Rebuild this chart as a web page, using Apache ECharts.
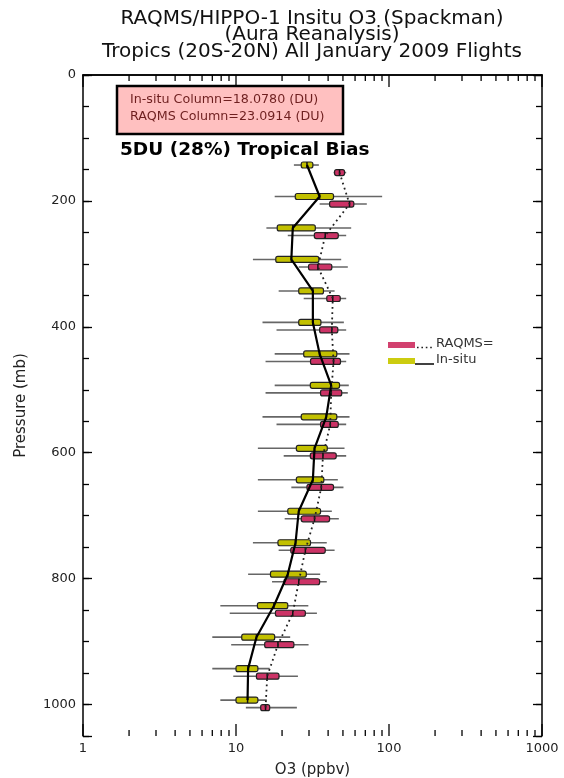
<!DOCTYPE html>
<html><head><meta charset="utf-8">
<script src="https://cdn.jsdelivr.net/npm/echarts@6/dist/echarts.min.js"></script>
<style>html,body{margin:0;padding:0;background:#fff}#c{width:564px;height:778px}</style>
</head><body><div id="c"></div>
<script>
// Pressure levels (mb) at which each profile is drawn
const insituPressure = [143,193,243,293,343,393,443,493,543,593,643,693,743,793,843,893,943,993];
const raqmsPressure  = [155,205,255,305,355,405,455,505,555,605,655,705,755,805,855,905,955,1005];

// In-situ O3 (ppbv) statistics
const insituWhiskerLow  = [23.9,17.9,15.8,12.9,19.0,14.9,17.9,17.9,14.9,13.9,13.9,13.9,12.9,12.0,7.9,7.0,7.0,7.9];
const insituBoxLow      = [26.7,24.4,18.6,18.2,25.7,25.7,27.7,30.6,26.7,24.8,24.8,21.8,18.8,16.8,13.8,10.9,10.0,10.0];
const insituMedian      = [29.1,35.2,23.5,23.0,31.8,31.8,35.2,41.9,38.9,32.6,31.8,25.7,24.5,21.8,17.7,13.6,12.0,11.9];
const insituBoxHigh     = [31.8,43.4,33.0,34.8,37.3,35.9,45.6,47.5,45.6,39.5,37.5,35.7,30.7,28.8,21.8,17.9,13.9,13.9];
const insituWhiskerHigh = [34.8,90.2,56.6,48.7,44.1,50.7,55.2,54.6,55.2,51.2,46.3,42.3,39.2,35.5,29.7,22.6,16.6,15.9];

// RAQMS O3 (ppbv) statistics
const raqmsWhiskerLow  = [43.4,35.2,21.8,25.7,27.7,18.4,15.6,15.6,18.4,20.5,23.0,20.8,19.0,17.2,9.1,9.3,9.6,11.6];
const raqmsBoxLow      = [44.1,40.9,32.5,29.8,39.2,35.2,30.7,35.7,35.7,30.6,29.1,26.7,22.8,20.6,18.1,15.4,13.6,14.5];
const raqmsMedian      = [47.5,55.2,38.3,34.3,42.9,42.3,43.4,41.9,41.3,37.0,36.1,32.6,28.4,25.7,23.5,18.8,16.0,15.6];
const raqmsBoxHigh     = [51.2,58.9,46.6,42.3,48.0,46.3,48.2,49.1,46.6,45.2,43.4,40.9,38.3,35.2,28.4,23.9,19.1,16.6];
const raqmsWhiskerHigh = [52.5,71.6,52.5,53.8,52.5,52.5,52.5,53.8,52.5,52.5,50.4,47.0,44.1,39.2,33.8,29.8,25.4,25.0];

// Axis ticks
const xMajorTicks = [1,10,100,1000];
const xMinorTicks = [2,3,4,5,6,7,8,9,20,30,40,50,60,70,80,90,200,300,400,500,600,700,800,900];

const titleLines = ['RAQMS/HIPPO-1 Insitu O3 (Spackman)', '(Aura Reanalysis)', 'Tropics (20S-20N) All January 2009 Flights'];
const columnLines = ['In-situ Column=18.0780 (DU)', 'RAQMS Column=23.0914 (DU)'];
const biasText = '5DU (28%) Tropical Bias';

function rows(p, wl, bl, md, bh, wh) {
  return p.map((y, i) => [y, wl[i], bl[i], md[i], bh[i], wh[i]]);
}
function boxRender(fill) {
  return function (params, api) {
    const y = api.value(0);
    const a = api.coord([api.value(1), y]);
    const b = api.coord([api.value(2), y]);
    const m = api.coord([api.value(3), y]);
    const c = api.coord([api.value(4), y]);
    const d = api.coord([api.value(5), y]);
    const h = 6;
    return { type: 'group', children: [
      { type: 'line', shape: { x1: a[0], y1: a[1], x2: d[0], y2: d[1] }, style: { stroke: '#666', lineWidth: 1.6 } },
      { type: 'rect', shape: { x: b[0], y: b[1] - h / 2, width: c[0] - b[0], height: h, r: 2 }, style: { fill: fill, stroke: '#222', lineWidth: 1.2 } },
      { type: 'line', shape: { x1: m[0], y1: m[1] - h / 2, x2: m[0], y2: m[1] + h / 2 }, style: { stroke: '#111', lineWidth: 1.5 } }
    ]};
  };
}
function tickRender(len) {
  return function (params, api) {
    const cs = params.coordSys;
    const x = api.coord([api.value(0), 0])[0];
    return { type: 'group', children: [
      { type: 'line', shape: { x1: x, y1: cs.y + cs.height, x2: x, y2: cs.y + cs.height - len }, style: { stroke: '#000', lineWidth: 1.3 } },
      { type: 'line', shape: { x1: x, y1: cs.y, x2: x, y2: cs.y + len }, style: { stroke: '#000', lineWidth: 1.3 } }
    ]};
  };
}

const FONT = 'DejaVu Sans';
const chart = echarts.init(document.getElementById('c'), null, { renderer: 'canvas' });
const axisLineStyle = { color: '#000', width: 1.5 };

chart.setOption({
  animation: false,
  backgroundColor: '#fff',
  grid: { left: 83, right: 22, top: 75, bottom: 42, outerBoundsMode: 'none', containLabel: false },
  xAxis: [
    { type: 'log', logBase: 10, min: 1, max: 1000, position: 'bottom',
      axisLine: { show: true, lineStyle: axisLineStyle },
      axisTick: { show: false },
      axisLabel: { fontFamily: FONT, fontSize: 13, color: '#222', margin: 6, formatter: v => String(v) },
      splitLine: { show: false },
      name: 'O3 (ppbv)', nameLocation: 'middle', nameGap: 27,
      nameTextStyle: { fontFamily: FONT, fontSize: 15, color: '#222' } },
    { type: 'log', logBase: 10, min: 1, max: 1000, position: 'top',
      axisLine: { show: true, lineStyle: axisLineStyle },
      axisTick: { show: false },
      axisLabel: { show: false }, splitLine: { show: false } }
  ],
  yAxis: [
    { type: 'value', inverse: true, min: 0, max: 1050, interval: 50, position: 'left',
      axisLine: { show: true, lineStyle: axisLineStyle },
      axisTick: { show: true, inside: true, length: 6, lineStyle: { color: '#000', width: 1.3 } },
      axisLabel: { fontFamily: FONT, fontSize: 13, color: '#222', margin: 7,
        formatter: v => (v % 200 === 0 && v <= 1000) ? String(v) : '' },
      splitLine: { show: false },
      name: 'Pressure (mb)', nameLocation: 'middle', nameGap: 54, nameRotate: 90,
      nameTextStyle: { fontFamily: FONT, fontSize: 15, color: '#222' } },
    { type: 'value', inverse: true, min: 0, max: 1050, interval: 200, position: 'left',
      axisLine: { show: false },
      axisTick: { show: true, inside: true, length: 9, lineStyle: { color: '#000', width: 1.3 } },
      axisLabel: { show: false }, splitLine: { show: false } },
    { type: 'value', inverse: true, min: 0, max: 1050, interval: 50, position: 'right',
      axisLine: { show: true, lineStyle: axisLineStyle },
      axisTick: { show: true, inside: true, length: 6, lineStyle: { color: '#000', width: 1.3 } },
      axisLabel: { show: false }, splitLine: { show: false } },
    { type: 'value', inverse: true, min: 0, max: 1050, interval: 200, position: 'right',
      axisLine: { show: false },
      axisTick: { show: true, inside: true, length: 9, lineStyle: { color: '#000', width: 1.3 } },
      axisLabel: { show: false }, splitLine: { show: false } }
  ],
  series: [
    { type: 'custom', name: 'majorTicks', silent: true, xAxisIndex: 0, yAxisIndex: 0,
      data: xMajorTicks.map(v => [v, 0]), encode: { x: 0, y: 1 }, renderItem: tickRender(12) },
    { type: 'custom', name: 'minorTicks', silent: true, xAxisIndex: 0, yAxisIndex: 0,
      data: xMinorTicks.map(v => [v, 0]), encode: { x: 0, y: 1 }, renderItem: tickRender(6) },
    { type: 'custom', name: 'In-situ boxes', xAxisIndex: 0, yAxisIndex: 0, z: 3,
      data: rows(insituPressure, insituWhiskerLow, insituBoxLow, insituMedian, insituBoxHigh, insituWhiskerHigh),
      encode: { x: [1, 2, 3, 4, 5], y: 0 }, renderItem: boxRender('#c2c000') },
    { type: 'custom', name: 'RAQMS boxes', xAxisIndex: 0, yAxisIndex: 0, z: 3,
      data: rows(raqmsPressure, raqmsWhiskerLow, raqmsBoxLow, raqmsMedian, raqmsBoxHigh, raqmsWhiskerHigh),
      encode: { x: [1, 2, 3, 4, 5], y: 0 }, renderItem: boxRender('#cc3366') },
    { type: 'line', name: 'In-situ', xAxisIndex: 0, yAxisIndex: 0, z: 5, symbol: 'none',
      data: insituPressure.map((p, i) => [insituMedian[i], p]),
      lineStyle: { color: '#000', width: 2.2 } },
    { type: 'line', name: 'RAQMS', xAxisIndex: 0, yAxisIndex: 0, z: 5, symbol: 'none',
      data: raqmsPressure.map((p, i) => [raqmsMedian[i], p]),
      lineStyle: { color: '#222', width: 1.8, type: [1.8, 3.5] } }
  ],
  graphic: [
    { type: 'text', x: 312, y: 19, style: { text: titleLines[0], font: '20px "DejaVu Sans"', fill: '#111', textAlign: 'center', textVerticalAlign: 'middle' } },
    { type: 'text', x: 312, y: 35, style: { text: titleLines[1], font: '20px "DejaVu Sans"', fill: '#111', textAlign: 'center', textVerticalAlign: 'middle' } },
    { type: 'text', x: 312, y: 52, style: { text: titleLines[2], font: '20px "DejaVu Sans"', fill: '#111', textAlign: 'center', textVerticalAlign: 'middle' } },
    { type: 'rect', shape: { x: 117, y: 86, width: 226, height: 48 }, style: { fill: '#ffc0c0', stroke: '#000', lineWidth: 2.5 }, z: 10 },
    { type: 'text', x: 130, y: 100, z: 11, style: { text: columnLines[0], font: '12.7px "DejaVu Sans"', fill: '#6e1f1f', textVerticalAlign: 'middle' } },
    { type: 'text', x: 130, y: 117, z: 11, style: { text: columnLines[1], font: '12.7px "DejaVu Sans"', fill: '#6e1f1f', textVerticalAlign: 'middle' } },
    { type: 'text', x: 120, y: 150, z: 11, style: { text: biasText, font: 'bold 18.5px "DejaVu Sans"', fill: '#000', textVerticalAlign: 'middle' } },
    // legend
    { type: 'rect', shape: { x: 388, y: 342, width: 27, height: 6 }, style: { fill: '#d2416f' }, z: 11 },
    { type: 'line', shape: { x1: 417, y1: 347.5, x2: 433, y2: 347.5 }, style: { stroke: '#222', lineWidth: 1.6, lineDash: [1.6, 2.8] }, z: 11 },
    { type: 'text', x: 436, y: 344, z: 11, style: { text: 'RAQMS=', font: '13px "DejaVu Sans"', fill: '#333', textVerticalAlign: 'middle' } },
    { type: 'rect', shape: { x: 388, y: 358, width: 27, height: 6 }, style: { fill: '#cccc10' }, z: 11 },
    { type: 'line', shape: { x1: 415, y1: 364, x2: 434, y2: 364 }, style: { stroke: '#111', lineWidth: 1.6 }, z: 11 },
    { type: 'text', x: 436, y: 360, z: 11, style: { text: 'In-situ', font: '13px "DejaVu Sans"', fill: '#333', textVerticalAlign: 'middle' } }
  ]
});
</script>
</body></html>
